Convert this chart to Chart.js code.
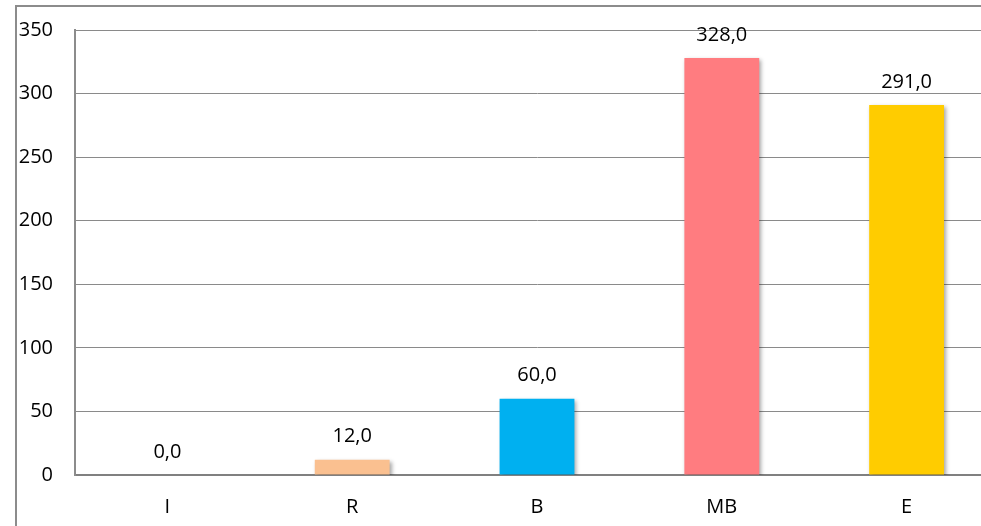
<!DOCTYPE html>
<html>
<head>
<meta charset="utf-8">
<script src="https://cdn.jsdelivr.net/npm/chart.js@4/dist/chart.umd.min.js"></script>
<style>
  html, body { margin: 0; padding: 0; background: #fff; overflow: hidden; }
  #frame {
    position: absolute; left: 15px; top: 5px;
    width: 1000px; height: 540px;
    border-left: 2px solid #8c8c8c; border-top: 2px solid #8c8c8c;
  }
  #wrap { position: absolute; left: 0; top: 0; width: 990px; height: 519px; }
</style>
</head>
<body>
<div id="frame"><div id="wrap"><canvas id="chart"></canvas></div></div>
<script>
const categories = ['I', 'R', 'B', 'MB', 'E'];
const values = [0, 12, 60, 328, 291];
const barColors = ['#FFFFFF', '#FAC090', '#00B0F0', '#FF7C80', '#FFCC00'];
const yTicks = [0, 50, 100, 150, 200, 250, 300, 350];

const fontFamily = "'Open Sans', 'Liberation Sans', sans-serif";

// soft drop shadow under the bars
const shadowPlugin = {
  id: 'barShadow',
  beforeDatasetsDraw(chart) {
    const ctx = chart.ctx;
    ctx.save();
    ctx.shadowColor = 'rgba(0,0,0,0.35)';
    ctx.shadowBlur = 4;
    ctx.shadowOffsetX = 2;
    ctx.shadowOffsetY = 2;
  },
  afterDatasetsDraw(chart) {
    chart.ctx.restore();
  }
};

// value labels above bars, "328,0" style
const valueLabels = {
  id: 'valueLabels',
  afterDatasetsDraw(chart) {
    const ctx = chart.ctx;
    const meta = chart.getDatasetMeta(0);
    ctx.save();
    ctx.font = '20px ' + fontFamily;
    ctx.fillStyle = '#000';
    ctx.textAlign = 'center';
    ctx.textBaseline = 'middle';
    meta.data.forEach((bar, i) => {
      const txt = values[i].toFixed(1).replace('.', ',');
      ctx.fillText(txt, bar.x, bar.y - 23);
    });
    ctx.restore();
  }
};

new Chart(document.getElementById('chart'), {
  type: 'bar',
  data: {
    labels: categories,
    datasets: [{
      data: values,
      backgroundColor: barColors,
      borderWidth: 0,
      barPercentage: 0.405,
      categoryPercentage: 1
    }]
  },
  options: {
    responsive: true,
    maintainAspectRatio: false,
    animation: false,
    layout: { padding: { top: 23, right: 8, bottom: 0, left: 0 } },
    plugins: {
      legend: { display: false },
      tooltip: { enabled: false }
    },
    scales: {
      x: {
        grid: { display: false, drawTicks: false },
        border: { color: '#808080', width: 2 },
        ticks: { color: '#000', padding: 20, font: { family: fontFamily, size: 20 } },
        afterFit(scale) { scale.height = 51; }
      },
      y: {
        min: 0,
        max: 350,
        afterBuildTicks(scale) { scale.ticks = yTicks.map(v => ({ value: v })); },
        grid: { color: '#8a8a8a', lineWidth: 1, drawTicks: false },
        border: { color: '#8c8c8c', width: 2 },
        ticks: { color: '#000', padding: 22, font: { family: fontFamily, size: 20 } },
        afterFit(scale) {
          scale.width = 58;
          scale.paddingTop = 0;
          scale.paddingBottom = 0;
        }
      }
    }
  },
  plugins: [shadowPlugin, valueLabels]
});
</script>
</body>
</html>
